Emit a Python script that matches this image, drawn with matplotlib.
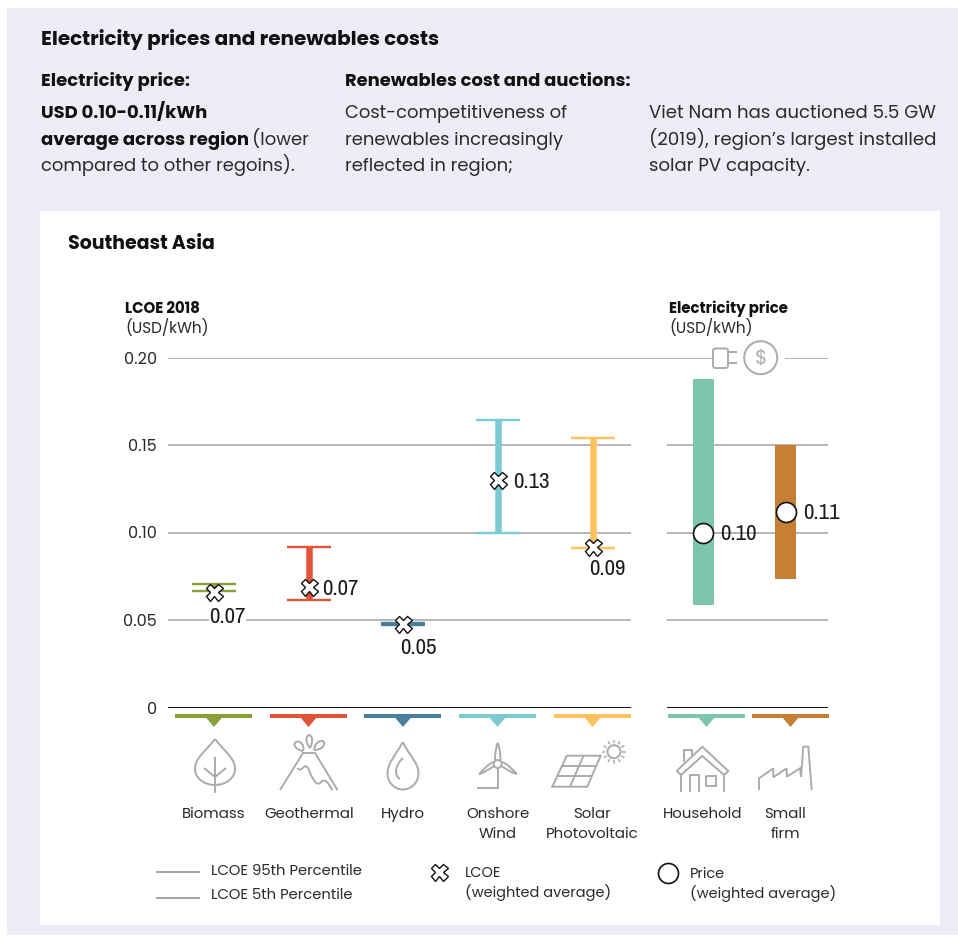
import numpy as np
import matplotlib
matplotlib.use("Agg")
import matplotlib.pyplot as plt
from matplotlib.patches import Circle, Polygon, PathPatch, Rectangle, FancyBboxPatch
from matplotlib.path import Path

# Levelised cost of electricity, 2018 (USD/kWh)
tech_names = ["Biomass", "Geothermal", "Hydro", "Onshore\nWind", "Solar\nPhotovoltaic"]
lcoe_p5 = [0.0666, 0.0614, 0.0472, 0.100, 0.091]
lcoe_p95 = [0.0704, 0.0919, 0.0482, 0.1643, 0.1542]
lcoe_avg = [0.0662, 0.069, 0.0475, 0.130, 0.092]
tech_colors = ["#87A03A", "#E2533A", "#4A7F9C", "#7CCBD2", "#FDC25E"]

# Electricity prices (USD/kWh)
price_names = ["Household", "Small\nfirm"]
price_low = [0.0587, 0.0736]
price_high = [0.1875, 0.150]
price_avg = [0.100, 0.112]
price_colors = ["#7CC6AB", "#C67F35"]

y_ticks = [0, 0.05, 0.10, 0.15, 0.20]
y_tick_labels = ["0", "0.05", "0.10", "0.15", "0.20"]

W, H = 958, 936
BODY = ["Poppins", "Open Sans", "DejaVu Sans"]
NARROW = ["Archivo Narrow", "Roboto Condensed", "DejaVu Sans"]
INK = "#2b2b2b"
ICON = "#ababab"
GRID = "#a3a3a3"

plt.rcParams["font.family"] = BODY
fig = plt.figure(figsize=(W / 100, H / 100), dpi=100, facecolor="white")

# Page layer, laid out in pixels from the top-left corner
page = fig.add_axes([0, 0, 1, 1], zorder=0)
page.set_xlim(0, W)
page.set_ylim(H, 0)
page.axis("off")
page.add_patch(Rectangle((7, 8), W - 7, H - 9, fc="#EDEDF8", ec="none"))
page.add_patch(Rectangle((40, 211), 900, 714, fc="white", ec="none"))


def px(size):
    return size * 0.72


def put(x, y, s, size=18, weight="normal", ha="left", color=INK, **kw):
    # y is the text baseline
    return page.text(x, y, s, fontsize=px(size), fontweight=weight, ha=ha,
                     va="baseline", color=color, **kw)


put(41, 45, "Electricity prices and renewables costs", 20, "bold", color="#111111")
put(41, 86, "Electricity price:", 18, "bold", color="#111111")
put(345, 86, "Renewables cost and auctions:", 17.9, "bold", color="#111111")
put(41, 118, "USD 0.10-0.11/kWh", 18, "bold", color="#111111")
put(41, 145, "average across region", 18, "bold", color="#111111")
put(252, 145, "(lower", 18)
put(41, 171, "compared to other regoins).", 18)
put(345, 118, "Cost-competitiveness of", 18)
put(345, 145, "renewables increasingly", 18)
put(345, 171, "reflected in region;", 18)
put(649, 118, "Viet Nam has auctioned 5.5 GW", 18.1)
put(649, 145, "(2019), region’s largest installed", 18.3)
put(649, 171, "solar PV capacity.", 18.1)
put(68, 249, "Southeast Asia", 19, "bold", color="#111111")

put(125, 313, "LCOE 2018", 15, "bold", color="#111111")
put(125, 333, "(USD/kWh)", 15.3)
put(669, 313, "Electricity price", 15, "bold", color="#111111")
put(669, 333, "(USD/kWh)", 15.3)

# Chart layer: horizontal axis in layout units, vertical axis in USD/kWh
X0, X1 = 168, 830
Y_ZERO, Y_TOP = 707.5, 357.5
ax = fig.add_axes([X0 / W, (H - Y_ZERO) / H, (X1 - X0) / W, (Y_ZERO - Y_TOP) / H], zorder=1)
ax.patch.set_alpha(0)
ax.set_xlim(X0, X1)
ax.set_ylim(0, 0.20)
for side in ax.spines.values():
    side.set_visible(False)
ax.set_xticks([])
ax.set_yticks(y_ticks, y_tick_labels)
ax.tick_params(axis="y", length=0, pad=8, labelsize=px(16), labelcolor=INK)

tech_x = [214, 309, 403, 498, 592.5]
price_x = [703, 785.5]
tech_band = [214, 308.5, 403, 497.5, 592.5]
price_band = [706.5, 790.5]

# Value label anchors: x, y in USD/kWh (None follows the mark), alignment
label_spots = [(227.5, 0.0527, "center"), (322, None, "left"), (418, 0.035, "center"),
               (513, None, "left"), (607, 0.080, "center")]

# Segmented gridlines
for v in y_ticks[1:-1]:
    ax.hlines(v, 168, 630.5, color=GRID, lw=1.1, zorder=1)
    ax.hlines(v, 667, 828, color=GRID, lw=1.1, zorder=1)
ax.hlines(0.20, 168, 712, color=GRID, lw=1.1, zorder=1)
ax.hlines(0.20, 785, 828, color=GRID, lw=1.1, zorder=1)
ax.hlines(0, 168, 630.5, color="#111111", lw=1.4, zorder=1)
ax.hlines(0, 667, 828, color="#111111", lw=1.4, zorder=1)

# LCOE ranges with caps and weighted averages
for i, x in enumerate(tech_x):
    c = tech_colors[i]
    ax.vlines(x, lcoe_p5[i], lcoe_p95[i], color=c, lw=px(6.5), zorder=2)
    ax.hlines([lcoe_p5[i], lcoe_p95[i]], x - 22, x + 22, color=c, lw=px(2.4), zorder=2)
    ax.plot(x, lcoe_avg[i], marker="X", ms=px(17), mfc="white", mec="#111111", mew=1.0,
            zorder=4, clip_on=False)

    lx, ly, ha = label_spots[i]
    ax.annotate(f"{lcoe_avg[i]:.2f}", (lx, lcoe_avg[i] if ly is None else ly),
                xytext=(0, -1.4), textcoords="offset points", family=NARROW,
                fontsize=px(23), ha=ha, va="center", color="#1c1c1c", zorder=5,
                bbox=dict(fc="white", ec="none", pad=0.5) if i == 0 else None)

# Price ranges with weighted averages
for i, x in enumerate(price_x):
    ax.bar(x, price_high[i] - price_low[i], bottom=price_low[i], width=21,
           color=price_colors[i], zorder=2)
    ax.plot(x, price_avg[i], marker="o", ms=px(20), mfc="white", mec="#111111", mew=1.2,
            zorder=4, clip_on=False)
    ax.annotate(f"{price_avg[i]:.2f}", (x + 17.5, price_avg[i]), xytext=(0, -1.0),
                textcoords="offset points", family=NARROW, fontsize=px(23),
                ha="left", va="center", color="#1c1c1c", zorder=5)


# Colour key band with a pointer below the axis
def band(cx, color):
    page.add_patch(Rectangle((cx - 38.5, 714), 77, 4, fc=color, ec="none"))
    page.add_patch(Polygon([(cx - 8.5, 717), (cx + 8.5, 717), (cx, 727)], fc=color, ec="none"))


for cx, c in zip(tech_band + price_band, tech_colors + price_colors):
    band(cx, c)


def stroke(points, closed=False, lw=1.4, color=ICON):
    xs, ys = zip(*points)
    page.plot(xs + (xs[0],) if closed else xs, ys + (ys[0],) if closed else ys, color=color,
              lw=lw, solid_joinstyle="miter", solid_capstyle="butt")


def curve(start, *segments, lw=1.4):
    # Cubic outline built from (ctrl, ctrl, end) triples
    verts, codes = [start], [Path.MOVETO]
    for seg in segments:
        verts += list(seg)
        codes += [Path.CURVE4] * 3
    page.add_patch(PathPatch(Path(verts, codes), fc="none", ec=ICON, lw=lw))


# Leaf
curve((215, 739), ((205, 752), (195, 758), (195, 769)), ((195, 778), (204, 785), (215, 785)),
      ((226, 785), (235, 778), (235, 769)), ((235, 758), (225, 752), (215, 739)))
stroke([(215, 757), (215, 793)])
stroke([(204, 768), (215, 777), (226, 768)])

# Volcano
stroke([(280, 790), (303, 753), (315, 753), (337.5, 790)])
curve((297.5, 768), ((301, 774), (304, 762), (308, 768)), ((312, 778), (316, 786), (320, 783)),
      ((325, 777), (328, 783), (332.5, 790)))
curve((303, 751), ((296, 750), (292, 744), (296, 742)), ((300, 740), (305, 745), (303, 751)))
curve((310, 748), ((305, 742), (306, 736), (309, 735)), ((313, 736), (313, 743), (310, 748)))
curve((314, 750), ((315, 742), (321, 739), (324, 742)), ((325, 747), (320, 750), (314, 750)))

# Water drop
curve((402.7, 742), ((396, 755), (387.5, 763), (387.5, 773)), ((387.5, 783), (395, 789.5), (402.7, 789.5)),
      ((411, 789.5), (418.5, 783), (418.5, 773)), ((418.5, 763), (409, 755), (402.7, 742)))
curve((403, 758), ((396, 764), (393, 775), (400, 779)))

# Wind turbine
hub = (497.7, 764)
page.add_patch(Circle(hub, 4, fc="none", ec=ICON, lw=1.4))
curve((495, 760.5), ((495, 752), (496.5, 746), (497.7, 743)), ((499, 746), (500.5, 752), (500.5, 760.5)))
curve((494, 766), ((488, 770), (483, 773), (479.3, 774)), ((483, 770), (488, 764), (493.6, 762)))
curve((501.5, 766), ((507.5, 770), (512.5, 773), (516.7, 774)), ((513, 770), (508, 764), (502, 762)))
stroke([(497.7, 768), (497.7, 788.3), (477.3, 788.3)])

# Solar panel and sun
stroke([(566.7, 755.7), (600.7, 755.7), (587.3, 786.7), (552.3, 786.7)], closed=True)
stroke([(561, 765.7), (596.5, 765.7)])
stroke([(556.8, 776), (592, 776)])
stroke([(583.5, 755.7), (570, 786.7)])
sun = np.array([614, 751.7])
page.add_patch(Circle(sun, 6.5, fc="none", ec=ICON, lw=1.4))
for a in np.deg2rad(np.arange(0, 360, 30)):
    d = np.array([np.cos(a), np.sin(a)])
    stroke([tuple(sun + 8.5 * d), tuple(sun + 12 * d)], lw=1.1)

# House
stroke([(676.7, 771), (702.3, 746.7), (728.3, 771), (724, 775), (702.3, 756), (681, 775)], closed=True)
stroke([(681, 775), (681, 791.7)])
stroke([(724, 775), (724, 791.7)])
stroke([(690, 791.7), (690, 775), (699.3, 775), (699.3, 791.7)])
stroke([(705.7, 776), (715.7, 776), (715.7, 786), (705.7, 786)], closed=True)
stroke([(684.3, 762), (684.3, 749.5), (691.7, 749.5), (691.7, 755)])

# Factory
stroke([(759, 790), (759, 778.3), (773.3, 768.3), (773.3, 777.3), (786.7, 768.3), (786.7, 776.7),
        (800, 768.3), (801, 776.7), (803.3, 746.7), (808.3, 746.7), (811.7, 790)])

# Plug and dollar coin on the top gridline
page.add_patch(FancyBboxPatch((713, 348.5), 15, 19.5, boxstyle="round,pad=0,rounding_size=2.5",
                              fc="white", ec=ICON, lw=1.4, zorder=3))
stroke([(728.5, 351.7), (736.7, 351.7)])
stroke([(728.5, 362.7), (736.7, 362.7)])
page.add_patch(Circle((760.7, 357.7), 16.5, fc="white", ec=ICON, lw=1.4))
put(760.7, 365, "$", 20, ha="center", color=ICON)

# Category names, one baseline per line
for cx, name in zip(tech_x + price_x, tech_names + price_names):
    for row, part in enumerate(name.split("\n")):
        put(cx, 818 + 20 * row, part, 15, ha="center")

# Legend
stroke([(156.5, 872.3), (200, 872.3)], color=GRID)
stroke([(156.5, 898), (200, 898)], color=GRID)
put(211, 875, "LCOE 95th Percentile", 14.8)
put(211, 899, "LCOE 5th Percentile", 14.8)
page.plot(439, 872, marker="X", ms=px(17), mfc="white", mec="#111111", mew=1.0)
put(465, 877, "LCOE", 14.5)
put(465, 897, "(weighted average)", 14.5)
page.plot(668, 873, marker="o", ms=px(20), mfc="white", mec="#111111", mew=1.2)
put(690, 878, "Price", 14.5)
put(690, 898, "(weighted average)", 14.5)

page.set_xlim(0, W)
page.set_ylim(H, 0)
fig.savefig("out.png", dpi=100)
